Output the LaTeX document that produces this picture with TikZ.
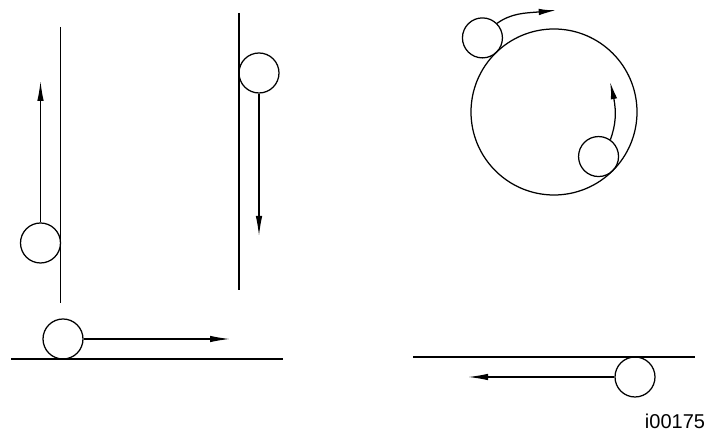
\documentclass[tikz,border=0pt]{standalone}
\usepackage{fontspec}
\setmainfont{Liberation Sans}
\usetikzlibrary{arrows.meta,bending,positioning,calc}

\begin{document}
\begin{tikzpicture}[x=1pt,y=1pt,line width=1.25pt,
  ball/.style={draw,circle,minimum size=40pt,inner sep=0pt},
  push/.style={-{Latex[length=20pt,width=6.5pt]}},
  swing/.style={-{Latex[length=18pt,width=6.5pt,bend]}}]
\useasboundingbox (0,0) rectangle (709,435);

% walls and floors
\coordinate (lw1) at (60.5,408);
\coordinate (lw2) at (60.5,132);
\coordinate (mw1) at (239,422);
\coordinate (mw2) at (239,145);
\coordinate (fl1) at (11,76);
\coordinate (fl2) at (283,76);
\coordinate (cl1) at (413,78);
\coordinate (cl2) at (695,78);
\draw (lw1) -- (lw2);
\draw (mw1) -- (mw2);
\draw (fl1) -- (fl2);
\draw (cl1) -- (cl2);

% big wheel
\node[draw,circle,minimum size=166pt,inner sep=0pt] (wheel) at (554,323) {};

% balls
\node[ball] (ba) at (40.5,192) {};
\node[ball] (bb) at (259,362) {};
\node[ball] (bc) at (63,96) {};
\node[ball] (bd) at ($(wheel.center)+(134:103)$) {};
\node[ball] (be) at ($(wheel.center)+(-45:63)$) {};
\node[ball] (bf) at (635,58) {};

% arrow ends
\coordinate (ta) at (40.5,354);
\coordinate (tb) at (259,199);
\coordinate (tc) at (230,96);
\coordinate (td) at (556,425);
\coordinate (te) at (610,353);
\coordinate (tf) at (468,58);

\draw[push] (ba) -- (ta);
\draw[push] (bb) -- (tb);
\draw[push] (bc) -- (tc);
\draw[swing] (bd.45) to[out=35,in=190] (td);
\draw[swing] (be.55) to[out=70,in=-75] (te);
\draw[push] (bf) -- (tf);

\node (lbl) at (675,14) {\fontsize{20}{24}\selectfont i00175};
\end{tikzpicture}
\end{document}
